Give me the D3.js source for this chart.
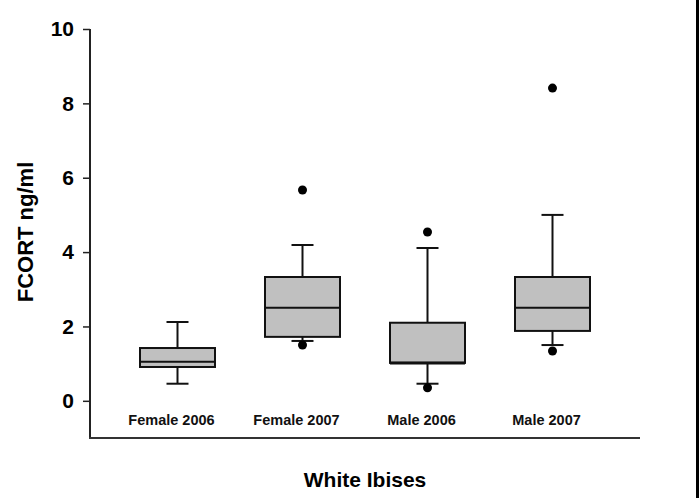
<!DOCTYPE html>
<html>
<head>
<meta charset="utf-8">
<script src="https://cdn.jsdelivr.net/npm/d3@7"></script>
<style>
body { margin: 0; background: #fff; }
svg { display: block; font-family: "Liberation Sans", Arial, sans-serif; }
</style>
</head>
<body>
<svg id="chart" width="700" height="498"></svg>
<script>
// values
var categories = ["Female 2006", "Female 2007", "Male 2006", "Male 2007"];
var whiskerLow = [0.46, 1.61, 0.46, 1.50];
var q1 = [0.91, 1.72, 1.02, 1.88];
var median = [1.05, 2.50, 1.02, 2.50];
var q3 = [1.42, 3.33, 2.10, 3.33];
var whiskerHigh = [2.12, 4.19, 4.11, 5.00];
var outliers = [
    ["Female 2007", 1.50], ["Female 2007", 5.67],
    ["Male 2006", 0.35], ["Male 2006", 4.54],
    ["Male 2007", 1.34], ["Male 2007", 8.41]
];
var yTicks = [0, 2, 4, 6, 8, 10];

var svg = d3.select("#chart"),
    width = +svg.attr("width"),
    height = +svg.attr("height");

var x = d3.scalePoint()
    .domain(categories)
    .range([90, 640])
    .padding(0.7);

var y = d3.scaleLinear()
    .domain([-1, 10])
    .range([438, 29]);

var boxW = 75, capW = 22;

// y axis
var yAxis = svg.append("g")
    .attr("transform", "translate(90,0)")
    .call(d3.axisLeft(y).tickValues(yTicks).tickSize(7).tickPadding(9).tickSizeOuter(0));
yAxis.select(".domain").remove();
yAxis.selectAll(".tick line").attr("stroke", "#222").attr("stroke-width", 1.5);
yAxis.selectAll(".tick text")
    .attr("fill", "#000")
    .style("font-size", "21px")
    .style("font-weight", "bold");

svg.append("line")
    .attr("x1", 90).attr("x2", 90)
    .attr("y1", y(10)).attr("y2", y(-1))
    .attr("stroke", "#222").attr("stroke-width", 2);

svg.append("line")
    .attr("x1", 89).attr("x2", 640)
    .attr("y1", y(-1)).attr("y2", y(-1))
    .attr("stroke", "#333").attr("stroke-width", 2);

// boxes
var g = svg.selectAll(".box")
    .data(categories)
    .enter().append("g")
    .attr("class", "box");

g.append("line")
    .attr("x1", function(d) { return x(d); })
    .attr("x2", function(d) { return x(d); })
    .attr("y1", function(d, i) { return y(whiskerHigh[i]); })
    .attr("y2", function(d, i) { return y(whiskerLow[i]); })
    .attr("stroke", "#111").attr("stroke-width", 2);

g.append("line")
    .attr("x1", function(d) { return x(d) - capW / 2; })
    .attr("x2", function(d) { return x(d) + capW / 2; })
    .attr("y1", function(d, i) { return y(whiskerHigh[i]); })
    .attr("y2", function(d, i) { return y(whiskerHigh[i]); })
    .attr("stroke", "#111").attr("stroke-width", 2);

g.append("line")
    .attr("x1", function(d) { return x(d) - capW / 2; })
    .attr("x2", function(d) { return x(d) + capW / 2; })
    .attr("y1", function(d, i) { return y(whiskerLow[i]); })
    .attr("y2", function(d, i) { return y(whiskerLow[i]); })
    .attr("stroke", "#111").attr("stroke-width", 2);

g.append("rect")
    .attr("x", function(d) { return x(d) - boxW / 2; })
    .attr("width", boxW)
    .attr("y", function(d, i) { return y(q3[i]); })
    .attr("height", function(d, i) { return y(q1[i]) - y(q3[i]); })
    .attr("fill", "#c0c0c0")
    .attr("stroke", "#111").attr("stroke-width", 2);

g.append("line")
    .attr("x1", function(d) { return x(d) - boxW / 2; })
    .attr("x2", function(d) { return x(d) + boxW / 2; })
    .attr("y1", function(d, i) { return y(median[i]); })
    .attr("y2", function(d, i) { return y(median[i]); })
    .attr("stroke", "#111")
    .attr("stroke-width", function(d, i) { return median[i] == q1[i] ? 3 : 2; });

svg.selectAll(".outlier")
    .data(outliers)
    .enter().append("circle")
    .attr("class", "outlier")
    .attr("cx", function(d) { return x(d[0]); })
    .attr("cy", function(d) { return y(d[1]); })
    .attr("r", 4.5)
    .attr("fill", "#000");

// category labels
svg.selectAll(".cat")
    .data(categories)
    .enter().append("text")
    .attr("class", "cat")
    .attr("x", function(d) { return x(d) - 6; })
    .attr("y", 425)
    .attr("text-anchor", "middle")
    .style("font-size", "14.5px")
    .style("font-weight", "bold")
    .attr("fill", "#111")
    .text(function(d) { return d; });

// titles
svg.append("text")
    .attr("x", 365)
    .attr("y", 487)
    .attr("text-anchor", "middle")
    .style("font-size", "21px")
    .style("font-weight", "bold")
    .text("White Ibises");

svg.append("text")
    .attr("transform", "translate(33,232) rotate(-90)")
    .attr("text-anchor", "middle")
    .style("font-size", "22px")
    .style("font-weight", "bold")
    .text("FCORT ng/ml");

// right frame edge
svg.append("rect")
    .attr("x", 696).attr("y", 0)
    .attr("width", 3).attr("height", height)
    .attr("fill", "#000");
</script>
</body>
</html>
